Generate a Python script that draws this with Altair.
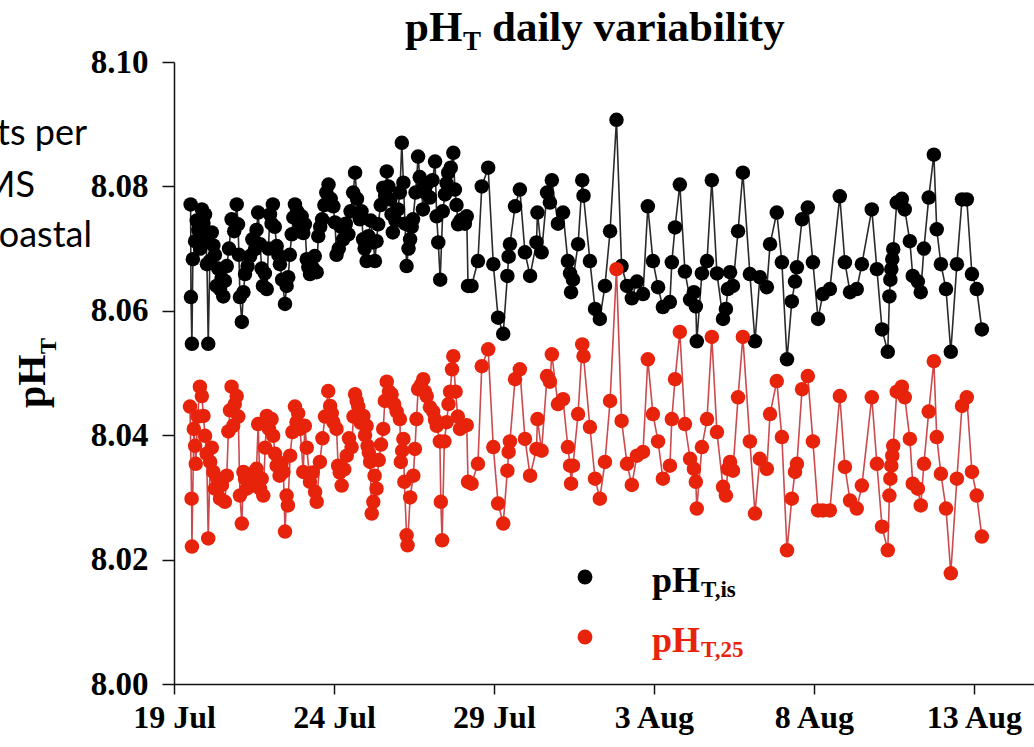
import altair as alt
import pandas as pd

# (days since 19 Jul 00:00, pH_T) -- dense early period
is_early = [
    (0.52, 8.0771), (0.53, 8.0622), (0.56, 8.0547), (0.59, 8.0683), (0.66, 8.0712), (0.71, 8.0745),
    (0.76, 8.0730), (0.82, 8.0700), (0.87, 8.0763), (0.92, 8.0741), (0.97, 8.0755), (1.00, 8.0718),
    (1.03, 8.0675), (1.07, 8.0547), (1.12, 8.0680), (1.18, 8.0726), (1.23, 8.0705), (1.28, 8.0690),
    (1.33, 8.0640), (1.38, 8.0668), (1.44, 8.0635), (1.49, 8.0652), (1.54, 8.0623), (1.59, 8.0648),
    (1.65, 8.0672), (1.72, 8.0700), (1.80, 8.0747), (1.88, 8.0728), (1.96, 8.0771), (2.00, 8.0739),
    (2.03, 8.0690), (2.06, 8.0622), (2.12, 8.0582), (2.17, 8.0630), (2.22, 8.0659), (2.30, 8.0672),
    (2.38, 8.0688), (2.45, 8.0715), (2.53, 8.0699), (2.58, 8.0730), (2.63, 8.0758), (2.69, 8.0707),
    (2.74, 8.0668), (2.78, 8.0640), (2.84, 8.0660), (2.90, 8.0635), (2.95, 8.0700), (3.00, 8.0755),
    (3.05, 8.0740), (3.09, 8.0771), (3.15, 8.0735), (3.21, 8.0704), (3.26, 8.0690), (3.31, 8.0675),
    (3.38, 8.0650), (3.47, 8.0611), (3.52, 8.0640), (3.57, 8.0654), (3.62, 8.0690), (3.68, 8.0723),
    (3.73, 8.0750), (3.78, 8.0771), (3.85, 8.0760), (3.92, 8.0740), (3.99, 8.0752), (4.04, 8.0725),
    (4.09, 8.0739), (4.15, 8.0683), (4.20, 8.0670), (4.25, 8.0659), (4.33, 8.0670), (4.40, 8.0688),
    (4.46, 8.0662), (4.51, 8.0720), (4.57, 8.0735), (4.63, 8.0747), (4.70, 8.0770), (4.76, 8.0790),
    (4.83, 8.0803), (4.90, 8.0780), (4.98, 8.0768), (5.03, 8.0742), (5.08, 8.0690), (5.15, 8.0700),
    (5.22, 8.0735), (5.29, 8.0715), (5.37, 8.0740), (5.45, 8.0723), (5.52, 8.0760), (5.60, 8.0790),
    (5.66, 8.0822), (5.72, 8.0780), (5.81, 8.0747), (5.86, 8.0760), (5.91, 8.0715), (5.96, 8.0700),
    (6.02, 8.0680), (6.08, 8.0720), (6.15, 8.0745), (6.23, 8.0710), (6.28, 8.0680), (6.33, 8.0712),
    (6.38, 8.0739), (6.46, 8.0770), (6.54, 8.0798), (6.60, 8.0785), (6.65, 8.0824), (6.70, 8.0800),
    (6.76, 8.0779), (6.80, 8.0755), (6.84, 8.0726), (6.92, 8.0745), (7.00, 8.0763), (7.06, 8.0790),
    (7.12, 8.0870), (7.17, 8.0806), (7.22, 8.0740), (7.27, 8.0672), (7.33, 8.0700), (7.38, 8.0715),
    (7.43, 8.0735), (7.47, 8.0747), (7.55, 8.0790), (7.63, 8.0848), (7.68, 8.0815), (7.74, 8.0795),
    (7.78, 8.0763), (7.85, 8.0790), (7.92, 8.0805), (8.00, 8.0782), (8.08, 8.0810), (8.16, 8.0840),
    (8.21, 8.0752), (8.26, 8.0710), (8.32, 8.0650), (8.40, 8.0760), (8.47, 8.0787), (8.52, 8.0805),
    (8.57, 8.0822), (8.65, 8.0830), (8.73, 8.0854), (8.78, 8.0795), (8.83, 8.0770), (8.88, 8.0739),
    (8.95, 8.0745), (9.03, 8.0747), (9.09, 8.0740), (9.15, 8.0752), (9.19, 8.0640),
]
t25_early = [
    (0.50, 8.0446), (0.55, 8.0298), (0.56, 8.0221), (0.62, 8.0410), (0.66, 8.0383), (0.68, 8.0354),
    (0.74, 8.0430), (0.81, 8.0478), (0.87, 8.0463), (0.92, 8.0431), (0.97, 8.0399), (1.02, 8.0370),
    (1.07, 8.0234), (1.13, 8.0357), (1.18, 8.0380), (1.23, 8.0341), (1.28, 8.0314), (1.35, 8.0330),
    (1.44, 8.0298), (1.50, 8.0320), (1.59, 8.0293), (1.65, 8.0335), (1.70, 8.0406), (1.75, 8.0440),
    (1.80, 8.0478), (1.85, 8.0415), (1.90, 8.0450), (1.96, 8.0463), (2.01, 8.0430), (2.06, 8.0303),
    (2.12, 8.0258), (2.17, 8.0341), (2.22, 8.0330), (2.27, 8.0314), (2.35, 8.0335), (2.43, 8.0319),
    (2.50, 8.0340), (2.58, 8.0346), (2.63, 8.0418), (2.69, 8.0314), (2.74, 8.0330), (2.79, 8.0303),
    (2.85, 8.0380), (2.90, 8.0431), (2.97, 8.0410), (3.05, 8.0426), (3.10, 8.0399), (3.16, 8.0370),
    (3.21, 8.0351), (3.30, 8.0335), (3.36, 8.0355), (3.42, 8.0341), (3.47, 8.0245), (3.52, 8.0303),
    (3.56, 8.0287), (3.63, 8.0367), (3.70, 8.0405), (3.78, 8.0446), (3.83, 8.0421), (3.88, 8.0435),
    (3.94, 8.0410), (4.04, 8.0341), (4.09, 8.0415), (4.15, 8.0380), (4.25, 8.0325), (4.33, 8.0340),
    (4.41, 8.0309), (4.46, 8.0293), (4.56, 8.0357), (4.64, 8.0395), (4.72, 8.0430), (4.82, 8.0471),
    (4.88, 8.0447), (4.93, 8.0435), (4.98, 8.0421), (5.08, 8.0410), (5.13, 8.0351), (5.18, 8.0340),
    (5.24, 8.0319), (5.32, 8.0345), (5.40, 8.0367), (5.47, 8.0395), (5.55, 8.0381), (5.61, 8.0430),
    (5.66, 8.0466), (5.71, 8.0455), (5.76, 8.0446), (5.84, 8.0420), (5.92, 8.0431), (5.97, 8.0400),
    (6.02, 8.0415), (6.05, 8.0383), (6.09, 8.0372), (6.13, 8.0357), (6.18, 8.0274), (6.23, 8.0293),
    (6.27, 8.0335), (6.33, 8.0314), (6.40, 8.0360), (6.47, 8.0385), (6.54, 8.0410), (6.59, 8.0455),
    (6.65, 8.0486), (6.72, 8.0470), (6.80, 8.0466), (6.88, 8.0450), (6.96, 8.0438), (7.06, 8.0426),
    (7.09, 8.0357), (7.13, 8.0375), (7.17, 8.0394), (7.20, 8.0325), (7.27, 8.0239), (7.30, 8.0223),
    (7.38, 8.0300), (7.48, 8.0335), (7.53, 8.0378), (7.58, 8.0426), (7.63, 8.0474), (7.71, 8.0480),
    (7.79, 8.0490), (7.84, 8.0470), (7.90, 8.0463), (8.00, 8.0445), (8.10, 8.0438), (8.16, 8.0425),
    (8.21, 8.0415), (8.31, 8.0390), (8.34, 8.0293), (8.38, 8.0231), (8.45, 8.0390), (8.52, 8.0421),
    (8.58, 8.0450), (8.63, 8.0470), (8.69, 8.0506), (8.73, 8.0527), (8.80, 8.0470), (8.87, 8.0430),
    (8.94, 8.0410), (9.05, 8.0415), (9.15, 8.0416), (9.19, 8.0325),
]

# sparser later period: common times for both series
late_day = [9.30, 9.50, 9.62, 9.82, 9.98, 10.13, 10.29, 10.42, 10.46, 10.50,
            10.66, 10.81, 10.97, 11.13, 11.33, 11.36, 11.49, 11.66, 11.75, 11.81,
            12.00, 12.16, 12.31, 12.38, 12.41, 12.47, 12.63, 12.76, 12.80, 13.00,
            13.16, 13.31, 13.47, 13.63, 13.83, 13.99, 14.16, 14.31, 14.47, 14.66,
            14.81, 14.97, 15.13, 15.28, 15.50, 15.56, 15.66, 15.81, 15.97, 16.13,
            16.25, 16.31, 16.34, 16.50, 16.66, 16.81, 16.97, 17.16, 17.25, 17.31,
            17.38, 17.47, 17.63, 17.78, 18.00, 18.16, 18.31, 18.53, 18.63, 18.84,
            19.00, 19.16, 19.31, 19.41, 19.47, 19.63, 19.81, 19.97, 20.13, 20.28,
            20.50, 20.81, 20.97, 21.13, 21.34, 21.50, 21.81, 21.97, 22.13, 22.31,
            22.36, 22.39, 22.42, 22.45, 22.48, 22.59, 22.75, 22.84, 23.00, 23.09,
            23.25, 23.34, 23.44, 23.59, 23.75, 23.84, 23.97, 24.13, 24.28, 24.47,
            24.63, 24.78, 24.94, 25.09, 25.25]
late_is_val = [8.0640, 8.0680, 8.0800, 8.0830, 8.0675, 8.0589, 8.0563, 8.0656, 8.0687, 8.0707,
               8.0768, 8.0795, 8.0694, 8.0656, 8.0710, 8.0758, 8.0694, 8.0790, 8.0774, 8.0810,
               8.0740, 8.0758, 8.0680, 8.0660, 8.0630, 8.0650, 8.0707, 8.0810, 8.0785, 8.0680,
               8.0603, 8.0587, 8.0640, 8.0728, 8.0907, 8.0672, 8.0640, 8.0620, 8.0647, 8.0627,
               8.0768, 8.0680, 8.0638, 8.0606, 8.0614, 8.0678, 8.0734, 8.0803, 8.0663, 8.0618,
               8.0630, 8.0607, 8.0551, 8.0660, 8.0680, 8.0810, 8.0660, 8.0587, 8.0603, 8.0635,
               8.0662, 8.0640, 8.0728, 8.0822, 8.0659, 8.0551, 8.0654, 8.0638, 8.0707, 8.0758,
               8.0678, 8.0522, 8.0615, 8.0647, 8.0670, 8.0747, 8.0766, 8.0678, 8.0587, 8.0627,
               8.0635, 8.0784, 8.0678, 8.0630, 8.0635, 8.0675, 8.0763, 8.0667, 8.0570, 8.0534,
               8.0623, 8.0650, 8.0667, 8.0683, 8.0699, 8.0774, 8.0780, 8.0763, 8.0712, 8.0656,
               8.0647, 8.0630, 8.0700, 8.0782, 8.0851, 8.0731, 8.0675, 8.0635, 8.0534, 8.0675,
               8.0779, 8.0779, 8.0659, 8.0635, 8.0570]
late_25_val = [8.0322, 8.0354, 8.0511, 8.0538, 8.0381, 8.0290, 8.0258, 8.0343, 8.0373, 8.0390,
               8.0490, 8.0506, 8.0394, 8.0335, 8.0378, 8.0426, 8.0375, 8.0495, 8.0486, 8.0530,
               8.0450, 8.0458, 8.0381, 8.0351, 8.0322, 8.0351, 8.0434, 8.0546, 8.0527, 8.0413,
               8.0330, 8.0298, 8.0357, 8.0455, 8.0667, 8.0423, 8.0354, 8.0320, 8.0367, 8.0373,
               8.0522, 8.0434, 8.0390, 8.0330, 8.0351, 8.0426, 8.0490, 8.0566, 8.0418, 8.0362,
               8.0346, 8.0325, 8.0282, 8.0381, 8.0426, 8.0558, 8.0405, 8.0317, 8.0303, 8.0346,
               8.0357, 8.0343, 8.0461, 8.0558, 8.0390, 8.0274, 8.0362, 8.0346, 8.0434, 8.0487,
               8.0397, 8.0215, 8.0298, 8.0341, 8.0354, 8.0474, 8.0495, 8.0390, 8.0279, 8.0279,
               8.0279, 8.0463, 8.0349, 8.0295, 8.0282, 8.0319, 8.0461, 8.0354, 8.0253, 8.0215,
               8.0303, 8.0330, 8.0351, 8.0367, 8.0383, 8.0470, 8.0478, 8.0461, 8.0394, 8.0322,
               8.0314, 8.0287, 8.0354, 8.0438, 8.0519, 8.0397, 8.0338, 8.0282, 8.0178, 8.0330,
               8.0447, 8.0461, 8.0341, 8.0303, 8.0237]

series_names = ["pH_T,is", "pH_T,25"]
tick_days = [0, 5, 10, 15, 20, 25]
tick_labels = ["19 Jul", "24 Jul", "29 Jul", "3 Aug", "8 Aug", "13 Aug"]
y_ticks = [8.00, 8.02, 8.04, 8.06, 8.08, 8.10]

rows = []
for d, v in is_early + list(zip(late_day, late_is_val)):
    rows.append({"day": d, "pH": v, "series": series_names[0]})
for d, v in t25_early + list(zip(late_day, late_25_val)):
    rows.append({"day": d, "pH": v, "series": series_names[1]})
df = pd.DataFrame(rows)

SERIF = "Liberation Serif"
BLACK_PT, RED_PT = "#000000", "#e8230b"
label_expr = "[" + ",".join("'%s'" % s for s in tick_labels) + "][round(datum.value/5)]"

x_enc = alt.X("day:Q",
              scale=alt.Scale(domain=[0, 26.88], nice=False, zero=False),
              axis=alt.Axis(values=tick_days, labelExpr=label_expr, title=None, grid=False,
                            labelFont=SERIF, labelFontWeight="bold", labelFontSize=32,
                            labelColor="#000", tickSize=10, tickWidth=1.5, tickColor="#111",
                            domainColor="#111", domainWidth=1.5, labelPadding=8,
                            labelFlush=False, labelOverlap=False))
y_enc = alt.Y("pH:Q",
              scale=alt.Scale(domain=[8.0, 8.1], nice=False, zero=False),
              axis=alt.Axis(values=y_ticks, format=".2f", title=None, grid=False,
                            labelFont=SERIF, labelFontWeight="bold", labelFontSize=33,
                            labelColor="#000", tickSize=12, tickWidth=1.5, tickColor="#111",
                            domainColor="#111", domainWidth=1.5, labelPadding=14))

base = alt.Chart(df)
lines = base.mark_line(strokeWidth=1.6).encode(
    x=x_enc, y=y_enc, detail="series:N", order="day:Q",
    stroke=alt.Stroke("series:N", scale=alt.Scale(domain=series_names, range=["#2a2a2a", "#cc4a4d"]),
                      legend=None),
)
points = base.mark_circle(size=210, opacity=1).encode(
    x=x_enc, y=y_enc,
    color=alt.Color("series:N", scale=alt.Scale(domain=series_names, range=[BLACK_PT, RED_PT]),
                    legend=None),
)

black_lines = lines.transform_filter(alt.datum.series == series_names[0])
black_pts = points.transform_filter(alt.datum.series == series_names[0])
red_lines = lines.transform_filter(alt.datum.series == series_names[1])
red_pts = points.transform_filter(alt.datum.series == series_names[1])

one = pd.DataFrame({"k": [0]})


def txt(s, x, y, size, color="#000", angle=0, font=SERIF, weight="bold", align="left"):
    return alt.Chart(one).mark_text(
        text=s, fontSize=size, font=font, fontWeight=weight, color=color,
        align=align, baseline="alphabetic", angle=angle,
    ).encode(x=alt.value(x), y=alt.value(y))


def legend_dot(x, y, color):
    return alt.Chart(one).mark_circle(size=220, opacity=1, color=color).encode(
        x=alt.value(x), y=alt.value(y))


decor = [
    # title
    txt("pH", 231, -21, 43),
    txt("T", 289, -12, 27),
    txt("daily variability", 318, -21, 43),
    # y axis title
    txt("pH", -129, 346, 40, angle=270),
    txt("T", -118, 292, 24, angle=270),
    # legend
    legend_dot(411, 515, BLACK_PT),
    legend_dot(411, 575, RED_PT),
    txt("pH", 478, 530, 36),
    txt("T,is", 527, 535, 23),
    txt("pH", 478, 590, 36, color=RED_PT),
    txt("T,25", 527, 595, 23, color=RED_PT),
    # slide text cut off at the left edge (as in the reference)
    txt("ts per", -87, 83, 36, font="Lato", weight="normal", align="right"),
    txt("MS", -139, 135, 36, font="Lato", weight="normal", align="right"),
    txt("oastal", -82, 185, 36, font="Lato", weight="normal", align="right"),
]

chart = alt.layer(black_lines, black_pts, red_lines, red_pts, *decor).properties(
    width=860, height=622,
    autosize=alt.AutoSizeParams(type="none"),
    padding={"left": 174, "top": 62, "right": 0, "bottom": 63},
    background="white",
).configure_view(stroke=None)

chart.save("out.html", embed_options={"renderer": "svg", "actions": False})
